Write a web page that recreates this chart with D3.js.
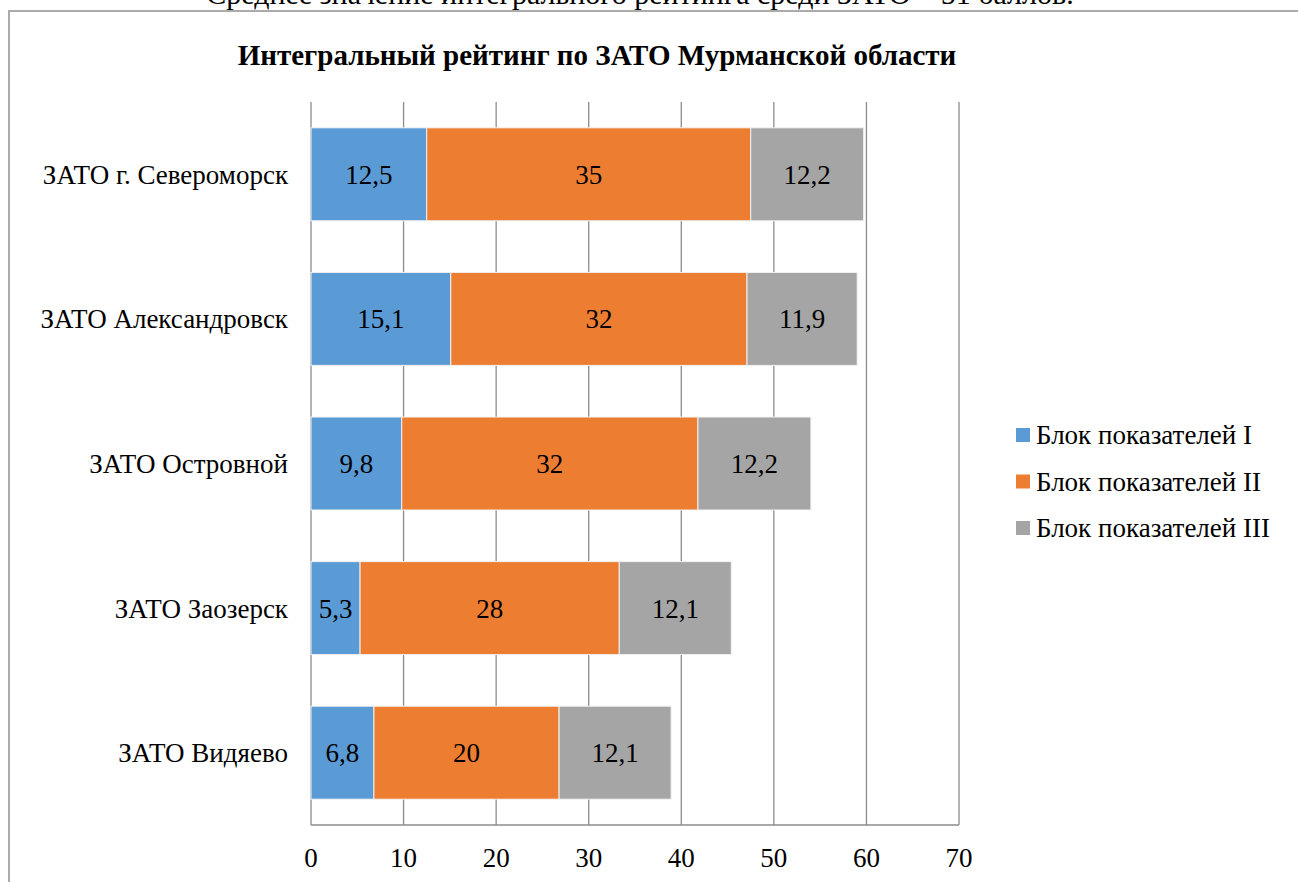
<!DOCTYPE html>
<html>
<head>
<meta charset="utf-8">
<script src="https://cdn.jsdelivr.net/npm/d3@7"></script>
<style>
  html body svg text { font-family: "Liberation Serif", "Times New Roman", serif !important; }
</style>
</head>
<body style="margin:0">
<div id="chart"></div>
<script>
var categories = ["ЗАТО г. Североморск", "ЗАТО Александровск", "ЗАТО Островной", "ЗАТО Заозерск", "ЗАТО Видяево"];
var seriesNames = ["Блок показателей I", "Блок показателей II", "Блок показателей III"];
var block1 = [12.5, 15.1, 9.8, 5.3, 6.8];
var block2 = [35, 32, 32, 28, 20];
var block3 = [12.2, 11.9, 12.2, 12.1, 12.1];
var xTicks = [0, 10, 20, 30, 40, 50, 60, 70];
var colors = ["#5B9BD5", "#ED7D31", "#A5A5A5"];

function draw() {
    var W = 1298, H = 882;
    var m = {left: 311, top: 102, right: 339, bottom: 57};
    var ff = "'Liberation Serif', 'Times New Roman', serif";

    var svg = d3.select("#chart")
        .append("svg")
        .attr("width", W)
        .attr("height", H);

    function label(sel) {
        return sel.attr("font-family", "Liberation Serif")
            .style("font-family", ff, "important")
            .attr("fill", "#000");
    }

    // page text above the chart, cut off by the window
    label(svg.append("text"))
        .attr("x", 640)
        .attr("y", 4)
        .attr("text-anchor", "middle")
        .attr("font-size", 30)
        .text("Среднее значение интегрального рейтинга среди ЗАТО – 51 баллов.");

    // chart frame
    svg.append("rect")
        .attr("x", 9)
        .attr("y", 11)
        .attr("width", 1300)
        .attr("height", 900)
        .attr("fill", "#fff")
        .attr("stroke", "#ababab")
        .attr("stroke-width", 2);

    label(svg.append("text"))
        .attr("x", 597)
        .attr("y", 65)
        .attr("text-anchor", "middle")
        .attr("font-size", 29)
        .attr("font-weight", "bold")
        .text("Интегральный рейтинг по ЗАТО Мурманской области");

    var xs = d3.scaleLinear()
        .domain([0, 70])
        .range([m.left, W - m.right]);

    var ys = d3.scaleBand()
        .domain(categories)
        .range([m.top, H - m.bottom])
        .paddingInner(0.357)
        .paddingOuter(0.1785);

    // grid lines
    svg.append("g")
        .selectAll("line")
        .data(xTicks)
        .enter().append("line")
        .attr("x1", function(d) { return xs(d); })
        .attr("x2", function(d) { return xs(d); })
        .attr("y1", m.top)
        .attr("y2", H - m.bottom)
        .attr("stroke", "#8c8c8c")
        .attr("stroke-width", 1.3);

    var stacked = d3.stack()
        .keys([0, 1, 2])
        .value(function(d, k) { return d[k]; })(categories.map(function(c, i) { return [block1[i], block2[i], block3[i]]; }));

    stacked.forEach(function(layer, k) {
        var g = svg.append("g");
        g.selectAll("rect")
            .data(layer)
            .enter().append("rect")
            .attr("x", function(d) { return xs(d[0]); })
            .attr("y", function(d, i) { return ys(categories[i]); })
            .attr("width", function(d) { return xs(d[1]) - xs(d[0]); })
            .attr("height", ys.bandwidth())
            .attr("fill", colors[k])
            .attr("stroke", "#f2f2f2")
            .attr("stroke-width", 1);
        label(g.selectAll("text")
            .data(layer)
            .enter().append("text"))
            .attr("x", function(d) { return (xs(d[0]) + xs(d[1])) / 2; })
            .attr("y", function(d, i) { return ys(categories[i]) + ys.bandwidth() / 2; })
            .attr("dy", "0.35em")
            .attr("text-anchor", "middle")
            .attr("font-size", 27)
            .text(function(d) { return String(d.data[k]).replace(".", ","); });
    });

    // bottom axis line
    svg.append("line")
        .attr("x1", xs(0))
        .attr("x2", xs(70))
        .attr("y1", H - m.bottom)
        .attr("y2", H - m.bottom)
        .attr("stroke", "#8c8c8c")
        .attr("stroke-width", 1.3);

    label(svg.append("g")
        .selectAll("text")
        .data(xTicks)
        .enter().append("text"))
        .attr("x", function(d) { return xs(d); })
        .attr("y", 867)
        .attr("text-anchor", "middle")
        .attr("font-size", 27)
        .text(function(d) { return d; });

    label(svg.append("g")
        .selectAll("text")
        .data(categories)
        .enter().append("text"))
        .attr("x", 288)
        .attr("y", function(d) { return ys(d) + ys.bandwidth() / 2; })
        .attr("dy", "0.35em")
        .attr("text-anchor", "end")
        .attr("font-size", 27)
        .text(function(d) { return d; });

    var legend = svg.append("g")
        .selectAll("g")
        .data(seriesNames)
        .enter().append("g")
        .attr("transform", function(d, i) { return "translate(1016," + (435 + i * 46.5) + ")"; });

    legend.append("rect")
        .attr("x", 0)
        .attr("y", -7)
        .attr("width", 14)
        .attr("height", 14)
        .attr("fill", function(d, i) { return colors[i]; });

    label(legend.append("text"))
        .attr("x", 20)
        .attr("dy", "0.35em")
        .attr("font-size", 27)
        .text(function(d) { return d; });
}

draw();
</script>
</body>
</html>
